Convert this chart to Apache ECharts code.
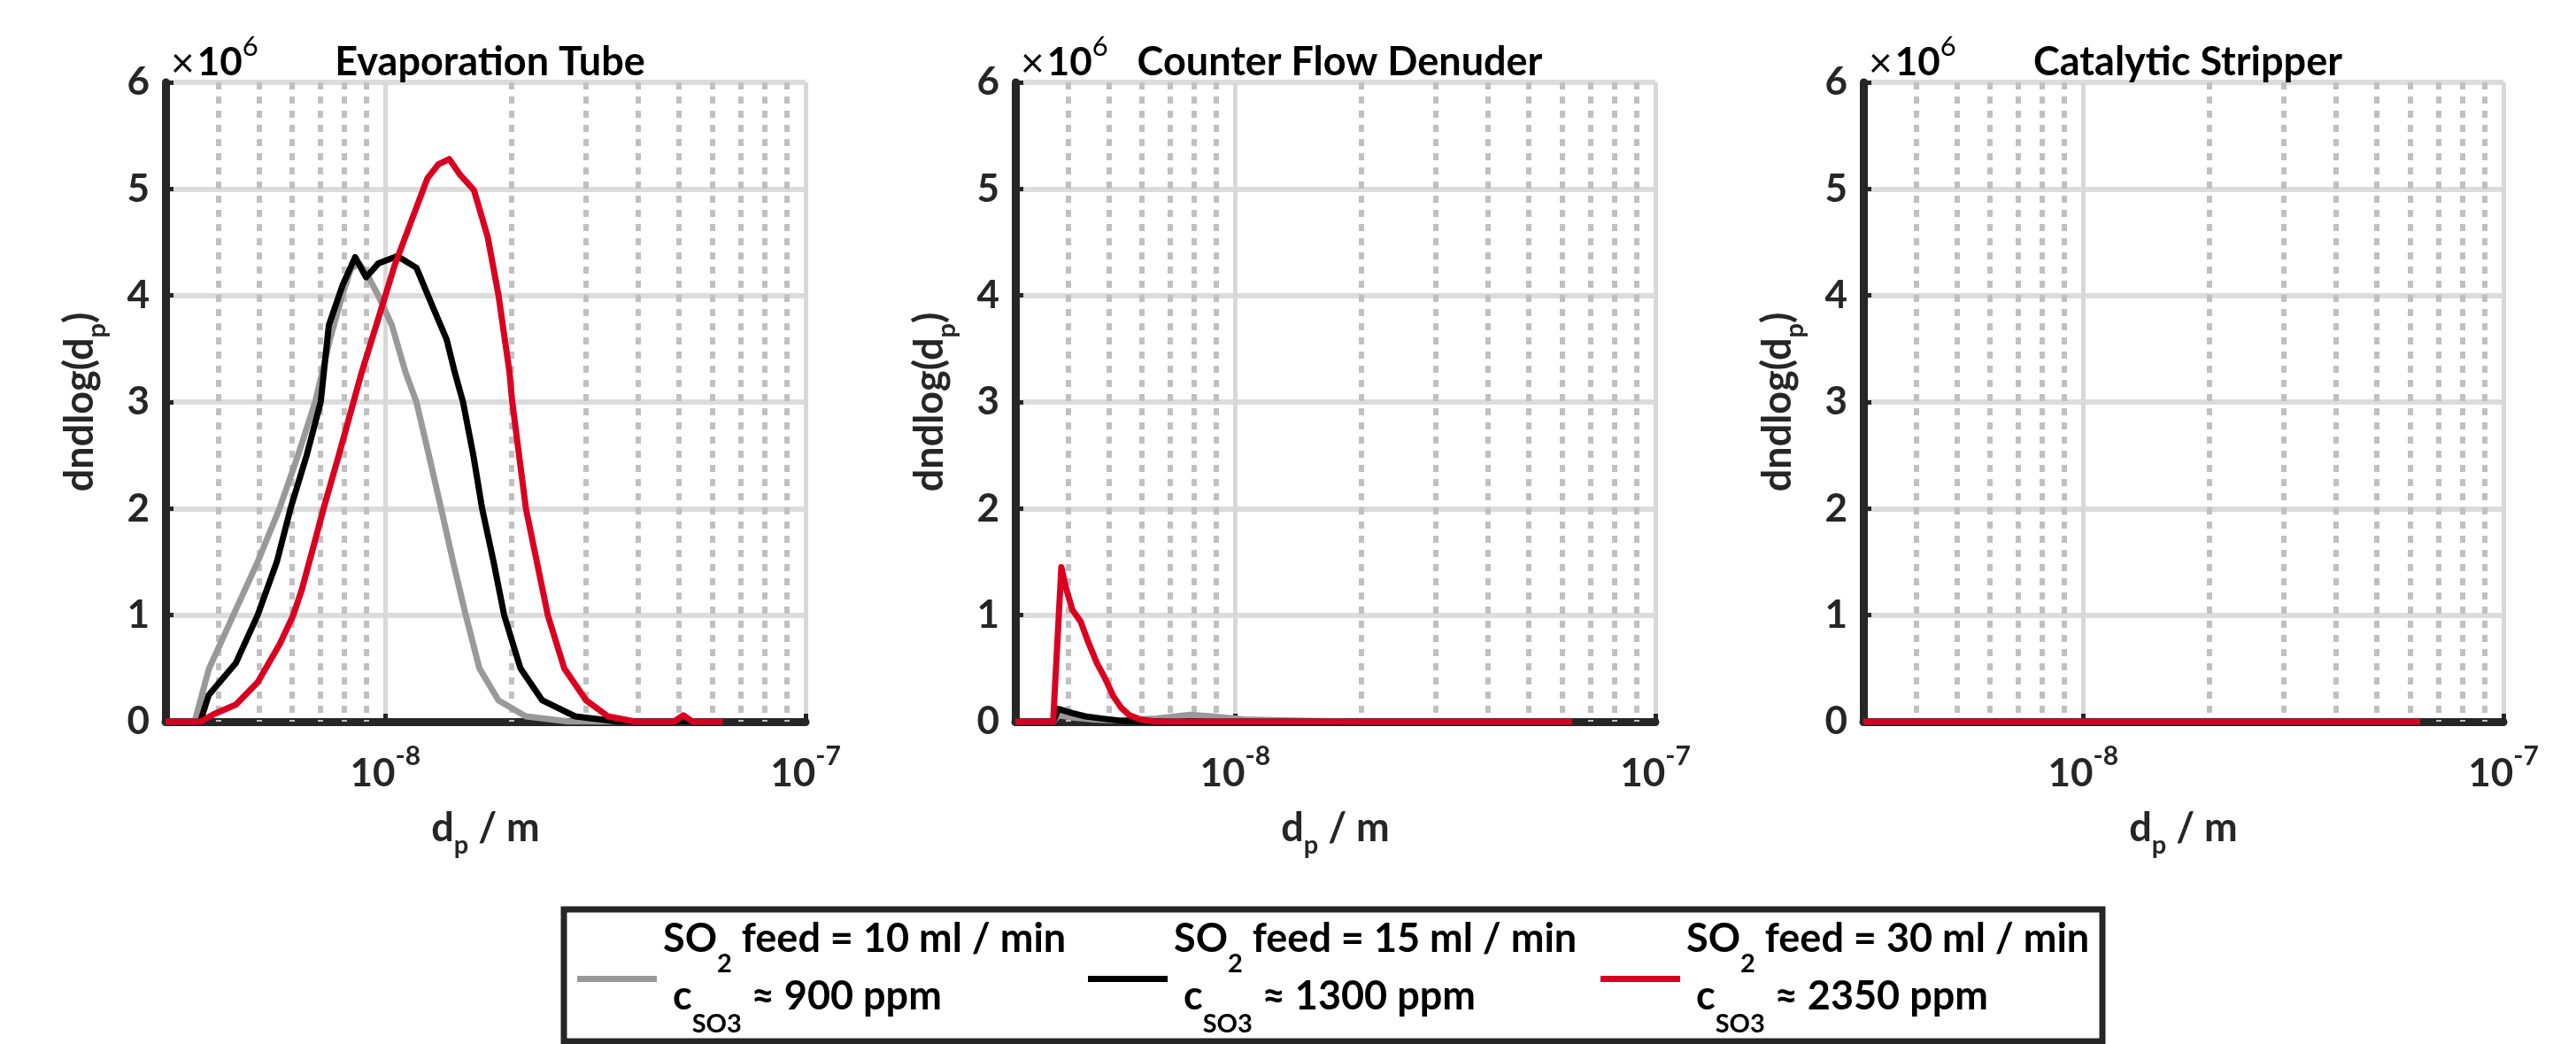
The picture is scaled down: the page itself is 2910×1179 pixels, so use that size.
<!DOCTYPE html>
<html>
<head>
<meta charset="utf-8">
<script src="https://cdn.jsdelivr.net/npm/echarts@6/dist/echarts.min.js"></script>
<style>
html,body{margin:0;padding:0;background:#ffffff;}
#chart{width:2910px;height:1179px;}
</style>
</head>
<body>
<div id="chart"></div>
<script>
// ---------------- DATA ----------------
const panelTitles = ['Evaporation Tube', 'Counter Flow Denuder', 'Catalytic Stripper'];
const seriesNames = ['SO2 feed = 10 ml / min', 'SO2 feed = 15 ml / min', 'SO2 feed = 30 ml / min'];
const seriesColors = ['#999999', '#000000', '#DA0020'];
const legendFeed = ['10', '15', '30'];
const legendConc = ['900', '1300', '2350'];

// x: particle diameter d_p in m ; y: dN/dlog(d_p) in units of 10^6
const evapGray = [[3.0e-9,0],[3.52e-9,0],[3.8e-9,0.49],[4.35e-9,1.0],[4.97e-9,1.5],[5.6e-9,2.0],[6.2e-9,2.5],[6.81e-9,3.0],[7.4e-9,3.6],[7.9e-9,4.0],[8.28e-9,4.25],[8.66e-9,4.3],[9.1e-9,4.18],[9.62e-9,4.0],[1.037e-8,3.72],[1.117e-8,3.28],[1.186e-8,3.0],[1.27e-8,2.5],[1.358e-8,2.0],[1.45e-8,1.5],[1.554e-8,1.0],[1.675e-8,0.5],[1.86e-8,0.2],[2.16e-8,0.05],[2.75e-8,0],[6.36e-8,0]];
const evapBlack = [[3.0e-9,0],[3.63e-9,0],[3.8e-9,0.25],[4.41e-9,0.55],[4.97e-9,1.0],[5.52e-9,1.5],[5.95e-9,2.0],[6.5e-9,2.5],[7.02e-9,3.0],[7.34e-9,3.72],[7.92e-9,4.1],[8.48e-9,4.36],[9.0e-9,4.17],[9.62e-9,4.3],[1.006e-8,4.33],[1.068e-8,4.37],[1.186e-8,4.26],[1.298e-8,3.89],[1.399e-8,3.59],[1.463e-8,3.28],[1.531e-8,3.0],[1.62e-8,2.5],[1.70e-8,2.0],[1.81e-8,1.5],[1.918e-8,1.0],[2.097e-8,0.5],[2.364e-8,0.2],[2.83e-8,0.05],[3.6e-8,0],[6.36e-8,0]];
const evapRed = [[3.0e-9,0],[3.63e-9,0],[3.91e-9,0.07],[4.41e-9,0.16],[4.97e-9,0.37],[5.61e-9,0.73],[6.04e-9,1.0],[6.32e-9,1.23],[6.7e-9,1.6],[7.13e-9,2.0],[7.75e-9,2.5],[8.40e-9,3.0],[8.79e-9,3.28],[9.62e-9,3.78],[1.052e-8,4.28],[1.151e-8,4.69],[1.26e-8,5.1],[1.337e-8,5.23],[1.42e-8,5.28],[1.508e-8,5.13],[1.625e-8,4.99],[1.752e-8,4.55],[1.86e-8,4.0],[1.975e-8,3.28],[2.005e-8,3.0],[2.161e-8,2.0],[2.436e-8,1.0],[2.666e-8,0.5],[3.006e-8,0.2],[3.388e-8,0.05],[3.94e-8,0],[4.86e-8,0],[5.125e-8,0.06],[5.39e-8,0],[6.36e-8,0]];

const cfdGray = [[3.0e-9,0],[3.69e-9,0],[3.8e-9,0.06],[4.1e-9,0.04],[4.6e-9,0.02],[5.3e-9,0.01],[6.5e-9,0.03],[7.8e-9,0.065],[8.8e-9,0.05],[1.05e-8,0.02],[1.4e-8,0.01],[2.0e-8,0],[6.34e-8,0]];
const cfdBlack = [[3.0e-9,0],[3.69e-9,0],[3.8e-9,0.12],[4.1e-9,0.08],[4.4e-9,0.05],[4.8e-9,0.03],[5.3e-9,0.01],[6.0e-9,0.005],[7.0e-9,0],[6.34e-8,0]];
const cfdRed = [[3.0e-9,0],[3.69e-9,0],[3.86e-9,1.45],[3.95e-9,1.27],[4.1e-9,1.05],[4.29e-9,0.94],[4.48e-9,0.74],[4.69e-9,0.55],[4.9e-9,0.41],[5.13e-9,0.24],[5.36e-9,0.13],[5.61e-9,0.06],[5.95e-9,0.02],[6.5e-9,0],[6.34e-8,0]];

const csGray = [[3.0e-9,0],[6.34e-8,0]];
const csBlack = [[3.0e-9,0],[6.34e-8,0]];
const csRed = [[3.0e-9,0],[6.34e-8,0]];

const xMin = 3e-9, xMax = 1e-7;
const yMin = 0, yMax = 6, yStep = 1;
const minorTicks = [4e-9,5e-9,6e-9,7e-9,8e-9,9e-9,2e-8,3e-8,4e-8,5e-8,6e-8,7e-8,8e-8,9e-8];
const yExponent = '6';

// ---------------- LAYOUT ----------------
const panelData = [[evapGray, evapBlack, evapRed],[cfdGray, cfdBlack, cfdRed],[csGray, csBlack, csRed]];
const gridLefts = [187, 1147, 2105];
const gridTop = 93, gridW = 723, gridH = 722;
const FONT = 'Lato, "Open Sans", sans-serif';
const TXT = '#262626';

const nameRich = {
  b: {fontFamily: FONT, fontWeight: 'bold', fontSize: 45, lineHeight: 48, color: TXT, verticalAlign: 'top'},
  sub: {fontFamily: FONT, fontWeight: 'bold', fontSize: 29, lineHeight: 32, color: TXT, verticalAlign: 'top', padding: [27,0,0,0]}
};

const grids = [], xAxes = [], yAxes = [], series = [], titles = [], graphics = [];
for (let p = 0; p < 3; p++) {
  grids.push({left: gridLefts[p], top: gridTop, width: gridW, height: gridH, containLabel: false});
  xAxes.push({
    type: 'log', logBase: 10, gridIndex: p, min: xMin, max: xMax,
    name: '{b|d}{sub|p}{b| / m}', nameLocation: 'middle', nameGap: 98,
    nameTextStyle: {rich: nameRich},
    axisLine: {show: true, onZero: false, lineStyle: {color: TXT, width: 9}},
    axisTick: {show: true, inside: true, length: 9, lineStyle: {color: TXT, width: 5}},
    axisLabel: {
      margin: 24, showMinLabel: true, showMaxLabel: true,
      formatter: function (v) {
        const e = Math.log10(v);
        if (Math.abs(e - Math.round(e)) < 1e-6) return '{m|10}{sup|' + Math.round(e) + '}';
        return '';
      },
      rich: {
        m: {fontFamily: FONT, fontWeight: 'bold', fontSize: 44, lineHeight: 48, color: TXT, verticalAlign: 'top', padding: [13,0,0,0]},
        sup: {fontFamily: FONT, fontWeight: 'bold', fontSize: 30, lineHeight: 34, color: TXT, verticalAlign: 'top'}
      }
    },
    splitLine: {show: true, lineStyle: {color: '#d8d8d8', width: 5}},
    minorTick: {show: false}, minorSplitLine: {show: false}
  });
  yAxes.push({
    type: 'value', gridIndex: p, min: yMin, max: yMax, interval: yStep,
    name: '{b|dndlog(d}{sub|p}{b|)}', nameLocation: 'middle', nameGap: 71,
    nameTextStyle: {rich: nameRich},
    axisLine: {show: true, lineStyle: {color: TXT, width: 9}},
    axisTick: {show: true, inside: true, length: 9, lineStyle: {color: TXT, width: 5}},
    axisLabel: {margin: 18, fontFamily: FONT, fontWeight: 'bold', fontSize: 44, color: TXT},
    splitLine: {show: true, lineStyle: {color: '#dcdcdc', width: 6}}
  });
  titles.push({
    text: panelTitles[p], left: gridLefts[p] + gridW / 2, top: 43, textAlign: 'center',
    textStyle: {fontFamily: FONT, fontWeight: 'bold', fontSize: 45, color: '#000'}
  });
  // x10^6 exponent label
  graphics.push({
    type: 'text', x: gridLefts[p] + 6, y: 37, z: 10,
    style: {
      text: '{x|\u00d7}{n|10}{s|' + yExponent + '}',
      rich: {
        x: {fontFamily: FONT, fontSize: 46, lineHeight: 48, color: TXT, verticalAlign: 'top', padding: [12,3,0,0]},
        n: {fontFamily: FONT, fontWeight: 'bold', fontSize: 44, lineHeight: 48, color: TXT, verticalAlign: 'top', padding: [12,0,0,0]},
        s: {fontFamily: FONT, fontSize: 31, lineHeight: 34, color: TXT, verticalAlign: 'top'}
      }
    }
  });
  // minor (dotted) vertical grid lines of the log axis
  series.push({
    type: 'lines', coordinateSystem: 'cartesian2d', xAxisIndex: p, yAxisIndex: p,
    polyline: false, silent: true, z: 1, animation: false, symbol: 'none',
    lineStyle: {type: [8, 8], color: '#c0c0c0', width: 6, opacity: 1},
    data: minorTicks.map(v => ({coords: [[v, yMax], [v, yMin]]}))
  });
  for (let s = 0; s < 3; s++) {
    series.push({
      type: 'line', name: seriesNames[s], xAxisIndex: p, yAxisIndex: p,
      data: panelData[p][s], showSymbol: false, symbol: 'none', smooth: false,
      lineStyle: {color: seriesColors[s], width: 7, join: 'round', cap: 'butt'},
      z: 3 + s, animation: false
    });
  }
}

// ---------------- LEGEND (graphic) ----------------
const legBox = {x: 637, y: 1027, w: 1738, h: 149};
const legItemX = [652, 1229, 1808];
graphics.push({type: 'rect', shape: {x: legBox.x, y: legBox.y, width: legBox.w, height: legBox.h},
  style: {fill: '#ffffff', stroke: TXT, lineWidth: 7}, z: 5});
const legRich = {
  b: {fontFamily: FONT, fontWeight: 'bold', fontSize: 45, lineHeight: 48, color: '#000', verticalAlign: 'top'},
  s1: {fontFamily: FONT, fontWeight: 'bold', fontSize: 29, lineHeight: 32, color: '#000', verticalAlign: 'top', padding: [36,0,0,0]},
  s2: {fontFamily: FONT, fontWeight: 'bold', fontSize: 29, lineHeight: 32, color: '#000', verticalAlign: 'top', padding: [39,0,0,0]}
};
for (let i = 0; i < 3; i++) {
  graphics.push({type: 'rect', shape: {x: legItemX[i], y: 1102, width: 90, height: 7},
    style: {fill: seriesColors[i]}, z: 6});
  graphics.push({type: 'text', x: legItemX[i] + 97, y: 1038, z: 6,
    style: {text: '{b|SO}{s1|2}{b| feed = ' + legendFeed[i] + ' ml / min}', rich: legRich}});
  graphics.push({type: 'text', x: legItemX[i] + 108, y: 1103, z: 6,
    style: {text: '{b|c}{s2|SO3}{b| \u2248 ' + legendConc[i] + ' ppm}', rich: legRich}});
}

const chart = echarts.init(document.getElementById('chart'), null, {renderer: 'canvas'});
chart.setOption({
  backgroundColor: '#ffffff',
  animation: false,
  title: titles,
  grid: grids,
  xAxis: xAxes,
  yAxis: yAxes,
  series: series,
  graphic: graphics
});
</script>
</body>
</html>
